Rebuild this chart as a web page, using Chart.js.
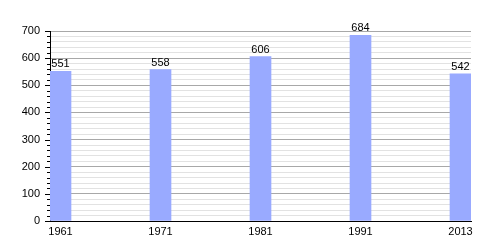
<!DOCTYPE html>
<html>
<head>
<meta charset="utf-8">
<script src="https://cdn.jsdelivr.net/npm/chart.js@4/dist/chart.umd.min.js"></script>
<style>
html,body{margin:0;padding:0;background:#fff;}
canvas{display:block;}
</style>
</head>
<body>
<canvas id="c" width="500" height="250"></canvas>
<script>
const years = ['1961', '1971', '1981', '1991', '2013'];
const population = [551, 558, 606, 684, 542];
const yMax = 700;
const majorStep = 100;
const minorStep = 20;

const FONT = '"Liberation Sans", Arial, sans-serif';

const valueLabels = {
  id: 'valueLabels',
  afterDatasetsDraw(chart) {
    const ctx = chart.ctx;
    const meta = chart.getDatasetMeta(0);
    ctx.save();
    ctx.font = '11px ' + FONT;
    ctx.fillStyle = '#000';
    ctx.textAlign = 'center';
    ctx.textBaseline = 'alphabetic';
    meta.data.forEach((bar, i) => {
      ctx.fillText(String(population[i]), bar.x, bar.y - 4);
    });
    ctx.restore();
  }
};

const tickMarks = {
  id: 'tickMarks',
  afterDraw(chart) {
    const ctx = chart.ctx;
    const ys = chart.scales.y;
    const left = chart.chartArea.left;
    ctx.save();
    ctx.strokeStyle = '#000';
    ctx.lineWidth = 1;
    ys.ticks.forEach(t => {
      const py = Math.round(ys.getPixelForValue(t.value)) + 0.5;
      const len = (t.value % majorStep === 0) ? 5 : 3;
      ctx.beginPath();
      ctx.moveTo(left - len, py);
      ctx.lineTo(left, py);
      ctx.stroke();
    });
    ctx.restore();
  }
};

new Chart(document.getElementById('c'), {
  type: 'bar',
  data: {
    datasets: [{
      data: population.map((v, i) => ({x: i, y: v})),
      backgroundColor: '#99aaff',
      borderWidth: 0,
      barThickness: 21
    }]
  },
  options: {
    responsive: false,
    animation: false,
    devicePixelRatio: 1,
    layout: {padding: {left: 0, right: 29, top: 31, bottom: 0}},
    plugins: {legend: {display: false}, tooltip: {enabled: false}},
    scales: {
      x: {
        type: 'linear',
        offset: false,
        min: -0.105,
        max: years.length - 1 + 0.105,
        afterBuildTicks(scale) {
          scale.ticks = years.map((y, i) => ({value: i}));
        },
        afterFit(scale) { scale.height = 29; },
        grid: {display: false, drawTicks: false, offset: false},
        border: {display: true, color: '#000', width: 1},
        ticks: {
          padding: 4,
          color: '#000',
          font: {family: FONT, size: 11},
          maxRotation: 0,
          autoSkip: false,
          callback: (v) => years[v]
        }
      },
      y: {
        min: 0,
        max: yMax,
        afterFit(scale) { scale.width = 50; },
        grid: {
          color: (c) => (c.tick && c.tick.value % majorStep === 0) ? '#a8a8a8' : '#e2e2e2',
          drawTicks: true,
          tickLength: 5,
          tickColor: 'rgba(0,0,0,0)'
        },
        border: {display: true, color: '#000', width: 1},
        ticks: {
          stepSize: minorStep,
          autoSkip: false,
          padding: 5,
          color: '#000',
          font: {family: FONT, size: 11},
          callback: (v) => (v % majorStep === 0) ? String(v) : ''
        }
      }
    }
  },
  plugins: [valueLabels, tickMarks]
});
</script>
</body>
</html>
